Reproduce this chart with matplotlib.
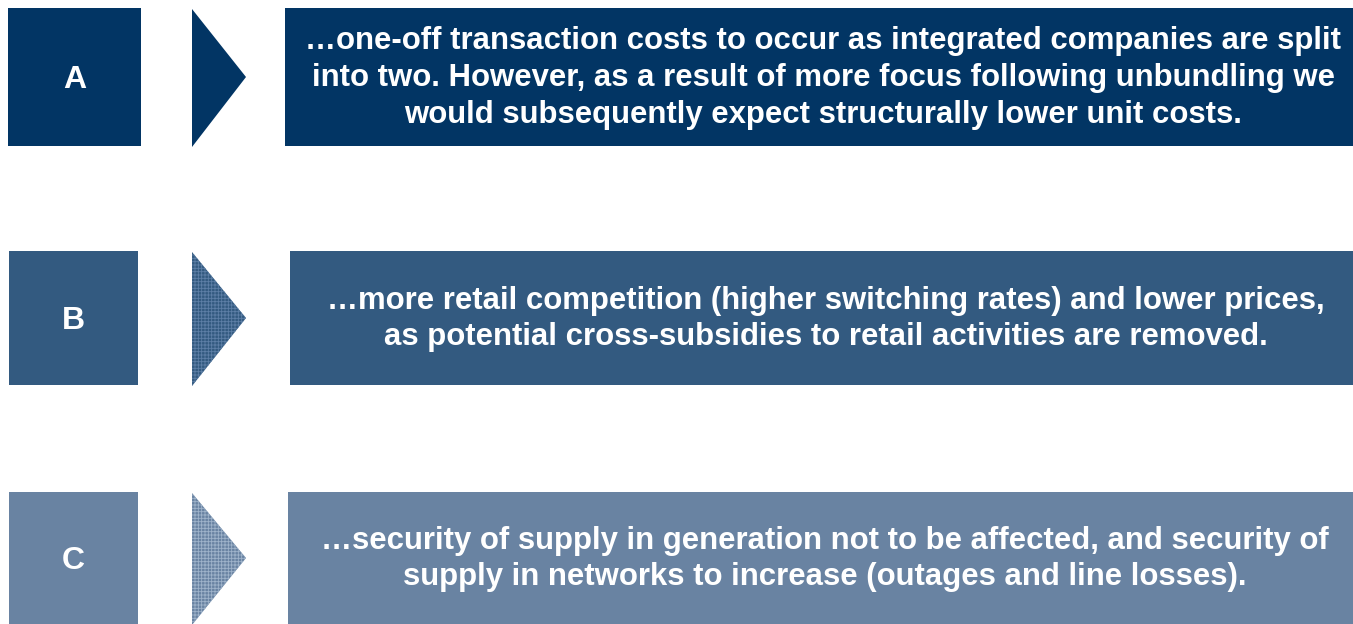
import matplotlib.pyplot as plt
from matplotlib.patches import Polygon, Rectangle

plt.rcParams["font.family"] = ["Liberation Sans", "DejaVu Sans"]
plt.rcParams["hatch.linewidth"] = 0.6

labels = ["A", "B", "C"]
messages = [
    "…one-off transaction costs to occur as integrated companies are split\n"
    "into two. However, as a result of more focus following unbundling we\n"
    "would subsequently expect structurally lower unit costs.",
    "…more retail competition (higher switching rates) and lower prices,\n"
    "as potential cross-subsidies to retail activities are removed.",
    "…security of supply in generation not to be affected, and security of\n"
    "supply in networks to increase (outages and line losses).",
]

colors = ["#023564", "#335a80", "#6983a2"]
hatch_colors = [None, "#5d7fa6", "#9fb3ca"]
# (top, bottom) of each row, label box x-range, text box left edge
rows = [(8, 146), (251, 385), (492, 624)]
label_x = [(8, 141), (9, 138), (9, 138)]
text_left = [285, 290, 288]

fig = plt.figure(figsize=(13.53, 6.24), dpi=100)
ax = fig.add_axes([0, 0, 1, 1])
ax.set_xlim(0, 1353)
ax.set_ylim(624, 0)
ax.axis("off")

for i, label in enumerate(labels):
    top, bottom = rows[i]
    mid = (top + bottom) / 2
    x0, x1 = label_x[i]
    ax.add_patch(Rectangle((x0, top), x1 - x0, bottom - top, facecolor=colors[i], edgecolor="none"))
    ax.text((x0 + x1) / 2, mid + 3, label, color="white", fontsize=23, fontweight="bold",
            ha="center", va="center")

    tri = [(192, top + 1), (246, mid), (192, bottom + 1)]
    ax.add_patch(Polygon(tri, closed=True, facecolor=colors[i], edgecolor="none"))
    if hatch_colors[i]:
        ax.add_patch(Polygon(tri, closed=True, facecolor="none", edgecolor=hatch_colors[i],
                             hatch="+++++", linewidth=0))

    ax.add_patch(Rectangle((text_left[i], top), 1353 - text_left[i], bottom - top,
                           facecolor=colors[i], edgecolor="none"))
    ax.text((text_left[i] + 1353) / 2 + 4, mid + 1, messages[i], color="white", fontsize=22.4,
            fontweight="bold", ha="center", va="center", linespacing=1.3)

fig.savefig("out.png", dpi=100)
